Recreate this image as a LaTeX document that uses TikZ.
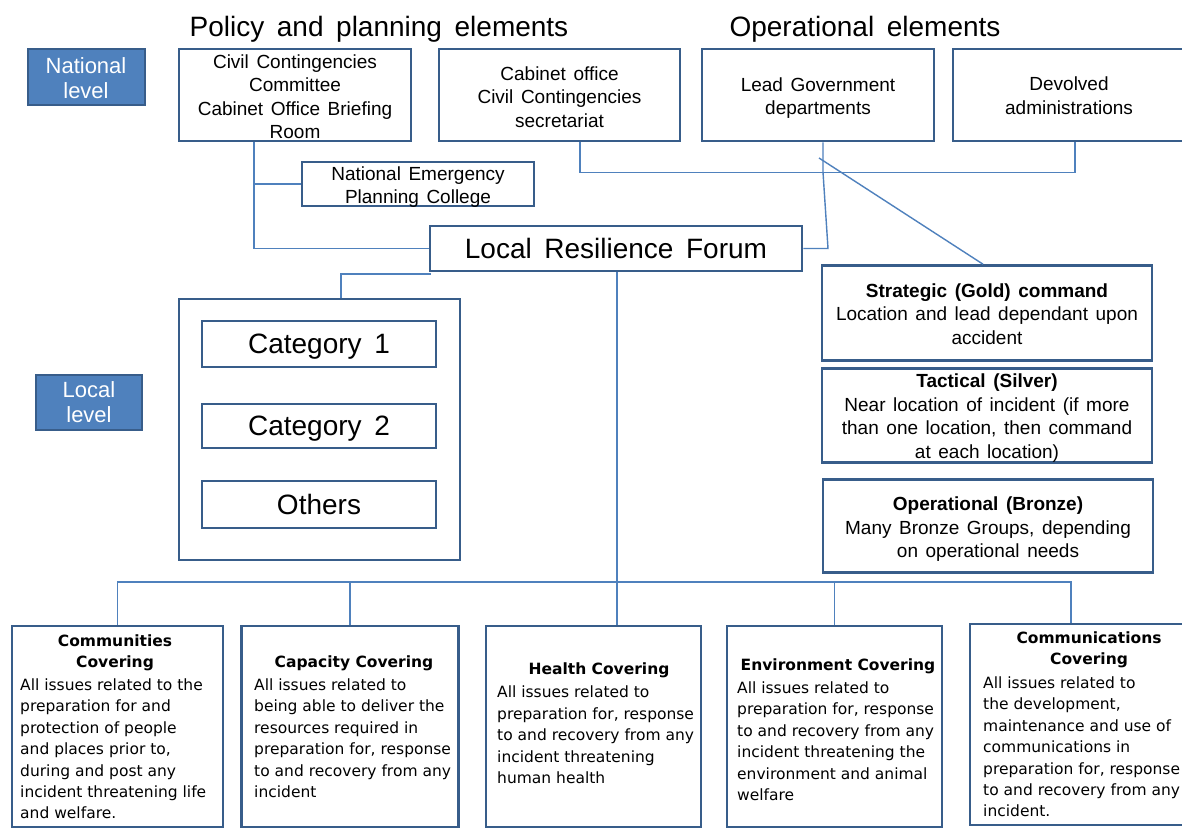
\documentclass[tikz,border=0pt]{standalone}
\usepackage{fontspec}
\setmainfont{Liberation Sans}
\newfontfamily\tah{DejaVu Sans}
\definecolor{bord}{HTML}{385D8A}
\definecolor{conn}{HTML}{4F81BD}
\definecolor{fillb}{HTML}{4F81BD}
\newcommand\medtxt{\fontsize{19}{23.5}\selectfont\spaceskip=0.4em plus 0.1em minus 0.05em}
\newcommand\bigtxt{\fontsize{28}{32}\selectfont\spaceskip=0.45em plus 0.1em minus 0.05em}
\newcommand\lvltxt{\fontsize{22}{25}\selectfont}
\newcommand\btxt{\tah\fontsize{15.5}{21.4}\selectfont}
\begin{document}
\begin{tikzpicture}[x=1pt,y=-1pt,
  box/.style={draw=bord,line width=2.6pt,inner sep=0pt,align=center,fill=white},
  lvlbox/.style={draw=bord,line width=2pt,fill=fillb,text=white,inner sep=0pt,align=center,font=\lvltxt},
  conn/.style={draw=conn,line width=1.4pt},
  mtxt/.style={inner sep=0pt,align=center,font=\medtxt},
  btxtn/.style={inner sep=0pt,align=center,font=\bigtxt},
  ttl/.style={inner sep=0pt,align=center,font={\btxt\bfseries}},
  body/.style={anchor=north west,inner sep=0pt,align=left,font=\btxt}]
\useasboundingbox (0,0) rectangle (1182,831);
\fill[white] (0,0) rectangle (1182,831);

% titles
\node[btxtn] (tpol) at (379,29) {Policy and planning elements};
\node[btxtn] (top) at (865,29) {Operational elements};

% level labels
\node[lvlbox,minimum width=117pt,minimum height=56pt] (nat) at (86,77) {};
\node[inner sep=0pt,align=center,font=\lvltxt,text=white,yshift=-1pt] (natT) at (nat) {National\\level};
\node[lvlbox,minimum width=106pt,minimum height=55pt] (loc) at (89,402.5) {Local\\level};

% national boxes
\node[box,minimum width=232pt,minimum height=92pt] (ccc) at (295,95) {};
\node[mtxt,yshift=-1.5pt] (cccT) at (ccc) {Civil Contingencies\\Committee\\Cabinet Office Briefing\\Room};
\node[box,minimum width=241pt,minimum height=92pt] (cab) at (559.5,95) {};
\node[mtxt,yshift=-2pt] (cabT) at (cab) {Cabinet office\\Civil Contingencies\\secretariat};
\node[box,minimum width=232pt,minimum height=92pt] (lead) at (818,95) {};
\node[mtxt,yshift=-3pt] (leadT) at (lead) {Lead Government\\departments};
\node[box,minimum width=232pt,minimum height=92pt] (dev) at (1069,95) {};
\node[mtxt,yshift=-0.5pt] (devT) at (dev) {Devolved\\administrations};
\node[box,minimum width=232pt,minimum height=44pt] (nepc) at (418,184) {};
\node[mtxt,yshift=-3pt] (nepcT) at (nepc) {National Emergency\\Planning College};
\node[box,font=\bigtxt,minimum width=372pt,minimum height=45pt] (lrf) at (616,248.5) {Local Resilience Forum};

% local responders
\node[box,minimum width=281pt,minimum height=261pt] (localbox) at (319.5,429.5) {};
\node[box,minimum width=234pt,minimum height=46pt] (cat1) at (319,344) {};
\node[btxtn,yshift=-3pt] (cat1T) at (cat1) {Category 1};
\node[box,minimum width=234pt,minimum height=44pt] (cat2) at (319,426) {};
\node[btxtn,yshift=-3pt] (cat2T) at (cat2) {Category 2};
\node[box,font=\bigtxt,minimum width=234pt,minimum height=47pt] (oth) at (319,504.5) {Others};

% command levels
\node[box,minimum width=330pt,minimum height=95pt] (strat) at (987,313) {};
\node[mtxt,yshift=-1pt] (stratT) at (strat) {\textbf{Strategic (Gold) command}\\Location and lead dependant upon\\accident};
\node[box,minimum width=330pt,minimum height=94pt] (tact) at (987,415.5) {};
\node[mtxt,yshift=-2.5pt] (tactT) at (tact) {\textbf{Tactical (Silver)}\\Near location of incident (if more\\than one location, then command\\at each location)};
\node[box,minimum width=330pt,minimum height=93pt] (oper) at (988,526) {};
\node[mtxt,yshift=-3.5pt] (operT) at (oper) {\textbf{Operational (Bronze)}\\Many Bronze Groups, depending\\on operational needs};

% bottom boxes
\node[box,minimum width=211pt,minimum height=201pt] (comm) at (117.5,726.5) {};
\node[box,minimum width=217pt,minimum height=201pt] (capa) at (350,726.5) {};
\node[box,minimum width=215pt,minimum height=201pt] (health) at (593.5,726.5) {};
\node[box,minimum width=215pt,minimum height=201pt] (env) at (834.5,726.5) {};
\node[box,minimum width=215pt,minimum height=201pt] (commun) at (1077.5,724.5) {};

\node[ttl] (commT) at (115,653) {Communities\\Covering};
\node[body] (commB) at (20,678.5) {All issues related to the\\preparation for  and\\protection of  people\\and places prior to,\\during and post any\\incident threatening life\\and welfare.};

\node[ttl] (capaT) at (354,663) {Capacity Covering};
\node[body] (capaB) at (254,678.5) {All issues related to\\being able to deliver  the\\resources required in\\preparation for, response\\to and recovery from any\\incident};

\node[ttl] (healthT) at (599,670) {Health Covering};
\node[body] (healthB) at (497,686) {All issues related to\\preparation for, response\\to and recovery from any\\incident threatening\\human health};

\node[ttl] (envT) at (838,666) {Environment Covering};
\node[body] (envB) at (737,681.5) {All issues related to\\preparation for, response\\to and recovery from any\\incident threatening the\\environment and animal\\welfare};

\node[ttl] (communT) at (1089,650) {Communications\\Covering};
\node[body] (communB) at (983,676.5) {All issues related to\\the development,\\maintenance and use of\\communications in\\preparation for, response\\to and recovery from any\\incident.};

% connectors
\coordinate (busy) at (0,582);
\coordinate (dstart) at (819,158);
\draw[conn] ([xshift=-41pt]ccc.south) |- (nepc.west);
\draw[conn] ([xshift=-41pt]ccc.south) |- (lrf.west);
\draw[conn] ([xshift=20.5pt]cab.south) -- ++(0,30) -| ([xshift=6pt]dev.south);
\draw[conn] ([xshift=5pt]lead.south) -- ++(0,30) -- ([xshift=10pt]lead.south |- lrf.east) -- (lrf.east);
\draw[conn] (dstart) -- ([xshift=-4pt]strat.north);
\draw[conn] ([xshift=2pt,yshift=-1.5pt]lrf.south west) -| ([xshift=21.5pt]localbox.north);
\draw[conn] ([xshift=1pt]lrf.south) -- ([xshift=1pt]lrf.south |- health.north);
\draw[conn] (comm.north) |- ([xshift=-6.5pt]commun.north |- busy) -- ([xshift=-6.5pt]commun.north);
\draw[conn] (capa.north) -- (capa.north |- busy);
\draw[conn] (env.north) -- (env.north |- busy);
\end{tikzpicture}
\end{document}
